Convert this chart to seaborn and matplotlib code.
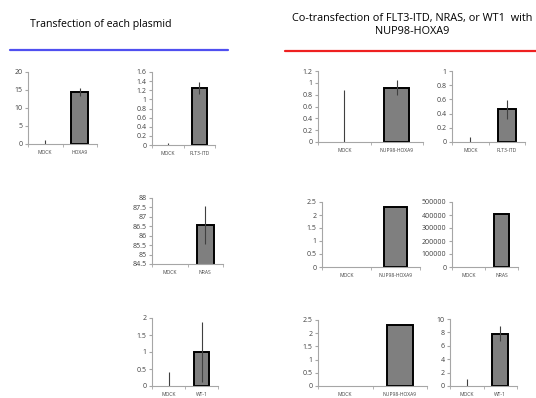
import numpy as np
import pandas as pd
import matplotlib
matplotlib.use("Agg")
import matplotlib.pyplot as plt
import matplotlib.ticker as mticker
import seaborn as sns

sns.set_style("white")
plt.rcParams["font.family"] = ["Open Sans", "DejaVu Sans"]

# ---- data ----
cats_hoxa9 = ["MOCK", "HOXA9"]
vals_hoxa9 = [0, 14.5]
errs_hoxa9 = [1.0, 1.15]

cats_flt3 = ["MOCK", "FLT3-ITD"]
vals_flt3 = [0, 1.25]
errs_flt3 = [0.05, 0.13]

cats_nras = ["MOCK", "NRAS"]
vals_nras = [0, 86.55]
errs_nras = [0, 1.0]

cats_wt1 = ["MOCK", "WT-1"]
vals_wt1 = [0, 1.0]
errs_wt1 = [0.4, 0.88]

cats_nup = ["MOCK", "NUP98-HOXA9"]
vals_nup_a = [0, 0.92]
errs_nup_a = [0.88, 0.13]
vals_nup_b = [0, 2.3]
vals_nup_c = [0, 2.3]

vals_co_flt3 = [0, 0.46]
errs_co_flt3 = [0.07, 0.13]
vals_co_nras = [0, 410000]
vals_co_wt1 = [0, 7.8]
errs_co_wt1 = [1.0, 1.1]

W, H = 536, 398
fig = plt.figure(figsize=(W / 100, H / 100), dpi=100)


def px_axes(x0, x1, y0, y1):
    return fig.add_axes([x0 / W, 1 - y1 / H, (x1 - x0) / W, (y1 - y0) / H])


def panel(rect, cats, vals, errs, ylim, step):
    ax = px_axes(*rect)
    df = pd.DataFrame({"cat": cats, "val": vals})
    sns.barplot(data=df, x="cat", y="val", ax=ax, color="#7f7f7f",
                saturation=1, width=0.48, edgecolor="black", linewidth=1.4,
                errorbar=None)
    # empty MOCK bars should not leave an outline on the axis
    for p in ax.patches:
        if p.get_height() == 0:
            p.set_visible(False)
    if errs is not None:
        ax.errorbar(range(len(cats)), vals, yerr=errs, fmt="none",
                    ecolor="#404040", elinewidth=0.8, capsize=0)
    ax.set_xlim(-0.5, len(cats) - 0.5)
    ax.set_ylim(*ylim)
    ax.set_yticks(np.arange(ylim[0], ylim[1] + step / 2, step))
    ax.yaxis.set_major_formatter(mticker.FuncFormatter(lambda v, p: f"{v:g}"))
    ax.set_xticks(np.arange(-0.5, len(cats)), minor=True)
    ax.tick_params(axis="x", which="major", length=0, labelsize=3.6,
                   labelcolor="#404040", pad=4.5)
    ax.tick_params(axis="x", which="minor", length=2.5, color="#a6a6a6",
                   direction="out", bottom=True)
    ax.tick_params(axis="y", length=2.5, color="#a6a6a6", direction="out",
                   left=True, labelsize=5, labelcolor="#404040", pad=1.5)
    ax.set_xlabel("")
    ax.set_ylabel("")
    for s in ["top", "right"]:
        ax.spines[s].set_visible(False)
    for s in ["left", "bottom"]:
        ax.spines[s].set_color("#a6a6a6")
        ax.spines[s].set_linewidth(0.8)
    return ax


# left column: each plasmid
panel((28, 97, 72, 144), cats_hoxa9, vals_hoxa9, errs_hoxa9, (0, 20), 5)
panel((152, 215, 72, 145), cats_flt3, vals_flt3, errs_flt3, (0, 1.6), 0.2)
panel((152, 223, 198, 264), cats_nras, vals_nras, errs_nras, (84.5, 88), 0.5)
panel((152, 218, 318, 386), cats_wt1, vals_wt1, errs_wt1, (0, 2), 0.5)

# right column: co-transfection
panel((318, 423, 71, 142), cats_nup, vals_nup_a, errs_nup_a, (0, 1.2), 0.2)
panel((452, 525, 71, 142), cats_flt3, vals_co_flt3, errs_co_flt3, (0, 1), 0.2)
panel((322, 420, 202, 267), cats_nup, vals_nup_b, None, (0, 2.5), 0.5)
panel((452, 518, 202, 267), cats_nras, vals_co_nras, None, (0, 500000), 100000)
panel((318, 427, 320, 386), cats_nup, vals_nup_c, None, (0, 2.5), 0.5)
panel((450, 517, 319, 386), cats_wt1, vals_co_wt1, errs_co_wt1, (0, 10), 2)

# headings and coloured rules
fig.text(30 / W, 1 - 25 / H, "Transfection of each plasmid", fontsize=7.6,
         ha="left", va="center", color="black")
fig.text(412 / W, 1 - 25 / H,
         "Co-transfection of FLT3-ITD, NRAS, or WT1  with\nNUP98-HOXA9",
         fontsize=7.8, ha="center", va="center", color="black",
         linespacing=1.3)
fig.add_artist(plt.Line2D([10 / W, 228 / W], [1 - 50 / H, 1 - 50 / H],
                          color="#4f4ff0", linewidth=1.6))
fig.add_artist(plt.Line2D([285 / W, 1.0], [1 - 51 / H, 1 - 51 / H],
                          color="#ee2020", linewidth=1.6))

fig.savefig("out.png", dpi=100)
